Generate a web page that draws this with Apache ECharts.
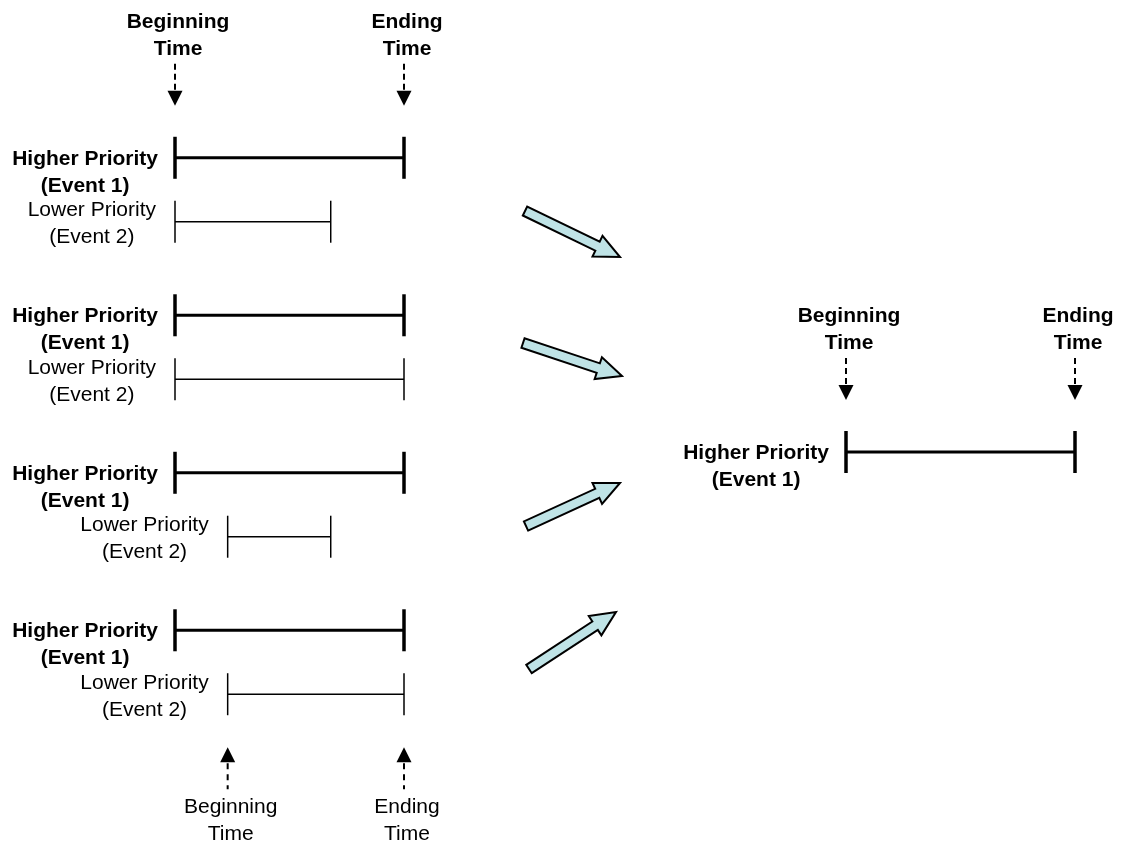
<!DOCTYPE html>
<html>
<head>
<meta charset="utf-8">
<script src="https://cdn.jsdelivr.net/npm/echarts@6/dist/echarts.min.js"></script>
<style>
  html, body { margin: 0; padding: 0; background: #fff; }
  #main { width: 1121px; height: 846px; }
</style>
</head>
<body>
<div id="main"></div>
<script>
// time scale of the diagram (arbitrary units)
const timeMin = 0;
const timeMax = 10;

// four overlap cases on the left
const cases = ['Case 1', 'Case 2', 'Case 3', 'Case 4'];
const event1Start = [0, 0, 0, 0];
const event1End = [10, 10, 10, 10];
const event2Start = [0, 0, 2.3, 2.3];
const event2End = [6.8, 10, 6.8, 10];

// result on the right: the higher priority event wins
const resultStart = 0;
const resultEnd = 10;

const highLabel = 'Higher Priority\n(Event 1)';
const lowLabel = 'Lower Priority\n(Event 2)';
const topMarkers = [[0, 'Beginning\nTime'], [10, 'Ending\nTime']];
const bottomMarkers = [[2.3, 'Beginning\nTime'], [10, 'Ending\nTime']];

const FONT = '"Liberation Sans", Arial, sans-serif';
const FS = 21;
const LH = 27;

const measureCtx = document.createElement('canvas').getContext('2d');
function textWidth(str, bold) {
    measureCtx.font = (bold ? 'bold ' : '') + FS + 'px ' + FONT;
    return Math.max(...str.split('\n').map(s => measureCtx.measureText(s).width));
}

// data for the interval series: [start, end, row, level]  level 0 = event 1, 1 = event 2
const leftData = [];
cases.forEach((c, i) => {
    leftData.push([event1Start[i], event1End[i], i, 0]);
    leftData.push([event2Start[i], event2End[i], i, 1]);
});
const rightData = [[resultStart, resultEnd, 0, 0]];

function intervalItem(params, api, offsetFrac) {
    const row = api.value(2);
    const level = api.value(3);
    const band = api.size([0, 1])[1];
    const dy = offsetFrac === 0 ? 0 : (level === 0 ? -offsetFrac : offsetFrac) * band;
    const s = api.coord([api.value(0), row]);
    const e = api.coord([api.value(1), row]);
    const y = s[1] + dy;
    const bold = level === 0;
    const lw = bold ? 3 : 1.5;
    const tw = bold ? 3.5 : 1.5;
    const half = 21;
    const label = bold ? highLabel : lowLabel;
    const w = textWidth(label, bold);
    const gap = bold ? 17 : 19;
    return {
        type: 'group',
        children: [
            { type: 'line', shape: { x1: s[0], y1: y, x2: e[0], y2: y }, style: { stroke: '#000', lineWidth: lw } },
            { type: 'line', shape: { x1: s[0], y1: y - half, x2: s[0], y2: y + half }, style: { stroke: '#000', lineWidth: tw } },
            { type: 'line', shape: { x1: e[0], y1: y - half, x2: e[0], y2: y + half }, style: { stroke: '#000', lineWidth: tw } },
            {
                type: 'text',
                x: s[0] - gap - w / 2,
                y: bold ? y + 1 - LH / 2 : y + 2 - LH,
                style: {
                    text: label, fill: '#000', font: (bold ? 'bold ' : '') + FS + 'px ' + FONT,
                    align: 'center', verticalAlign: 'top', lineHeight: LH
                }
            }
        ]
    };
}

// arrow + dashed stem + two-line text for beginning / ending time markers
function markerItem(api, x, yLine, label, bold, up) {
    const children = [];
    const font = (bold ? 'bold ' : '') + FS + 'px ' + FONT;
    if (!up) {
        // pointing down onto the bar
        children.push({ type: 'text', x: x + 3, y: yLine - 136 - LH / 2,
            style: { text: label, fill: '#000', font, align: 'center', verticalAlign: 'top', lineHeight: LH } });
        children.push({ type: 'line', shape: { x1: x, y1: yLine - 94, x2: x, y2: yLine - 68 },
            style: { stroke: '#000', lineWidth: 2, lineDash: [6, 4] } });
        children.push({ type: 'polygon', shape: { points: [[x - 7.5, yLine - 67], [x + 7.5, yLine - 67], [x, yLine - 52]] },
            style: { fill: '#000' } });
    } else {
        children.push({ type: 'polygon', shape: { points: [[x - 7.5, yLine + 68], [x + 7.5, yLine + 68], [x, yLine + 53]] },
            style: { fill: '#000' } });
        children.push({ type: 'line', shape: { x1: x, y1: yLine + 69, x2: x, y2: yLine + 95 },
            style: { stroke: '#000', lineWidth: 2, lineDash: [6, 5] } });
        children.push({ type: 'text', x: x + 3, y: yLine + 113 - LH / 2,
            style: { text: label, fill: '#000', font, align: 'center', verticalAlign: 'top', lineHeight: LH } });
    }
    return { type: 'group', children };
}

function arrowPoints(x1, y1, x2, y2) {
    const dx = x2 - x1, dy = y2 - y1;
    const len = Math.sqrt(dx * dx + dy * dy);
    const ux = dx / len, uy = dy / len;
    const nx = -uy, ny = ux;
    const sw = 5, hw = 11.5, hl = 25;
    const hx = x2 - ux * hl, hy = y2 - uy * hl;
    return [
        [x1 + nx * sw, y1 + ny * sw], [hx + nx * sw, hy + ny * sw], [hx + nx * hw, hy + ny * hw],
        [x2, y2],
        [hx - nx * hw, hy - ny * hw], [hx - nx * sw, hy - ny * sw], [x1 - nx * sw, y1 - ny * sw]
    ];
}
const arrows = [[525, 211, 620, 257], [523, 343, 622, 376], [526, 526, 620, 483], [529, 669, 616, 612]];

const chart = echarts.init(document.getElementById('main'));
chart.setOption({
    animation: false,
    backgroundColor: '#fff',
    grid: [
        { left: 175, width: 229, top: 111, height: 630 },
        { left: 846, width: 229, top: 372, height: 160 }
    ],
    xAxis: [
        { gridIndex: 0, type: 'value', min: timeMin, max: timeMax, show: false },
        { gridIndex: 1, type: 'value', min: timeMin, max: timeMax, show: false }
    ],
    yAxis: [
        { gridIndex: 0, type: 'category', data: cases, inverse: true, show: false },
        { gridIndex: 1, type: 'category', data: ['Result'], inverse: true, show: false }
    ],
    graphic: arrows.map(a => ({
        type: 'polygon',
        shape: { points: arrowPoints(a[0], a[1], a[2], a[3]) },
        style: { fill: '#bfe3e6', stroke: '#000', lineWidth: 2, lineJoin: 'miter' }
    })),
    series: [
        {
            type: 'custom', xAxisIndex: 0, yAxisIndex: 0,
            data: leftData,
            renderItem: (params, api) => intervalItem(params, api, 0.203)
        },
        {
            type: 'custom', xAxisIndex: 0, yAxisIndex: 0,
            data: topMarkers,
            renderItem: (params, api) => {
                const p = api.coord([api.value(0), 0]);
                const yLine = p[1] - 0.203 * api.size([0, 1])[1];
                return markerItem(api, p[0], yLine, topMarkers[params.dataIndex][1], true, false);
            }
        },
        {
            type: 'custom', xAxisIndex: 0, yAxisIndex: 0,
            data: bottomMarkers,
            renderItem: (params, api) => {
                const p = api.coord([api.value(0), cases.length - 1]);
                const yLine = p[1] + 0.203 * api.size([0, 1])[1];
                return markerItem(api, p[0], yLine, bottomMarkers[params.dataIndex][1], false, true);
            }
        },
        {
            type: 'custom', xAxisIndex: 1, yAxisIndex: 1,
            data: rightData,
            renderItem: (params, api) => intervalItem(params, api, 0)
        },
        {
            type: 'custom', xAxisIndex: 1, yAxisIndex: 1,
            data: topMarkers,
            renderItem: (params, api) => {
                const p = api.coord([api.value(0), 0]);
                return markerItem(api, p[0], p[1], topMarkers[params.dataIndex][1], true, false);
            }
        }
    ]
});
</script>
</body>
</html>
